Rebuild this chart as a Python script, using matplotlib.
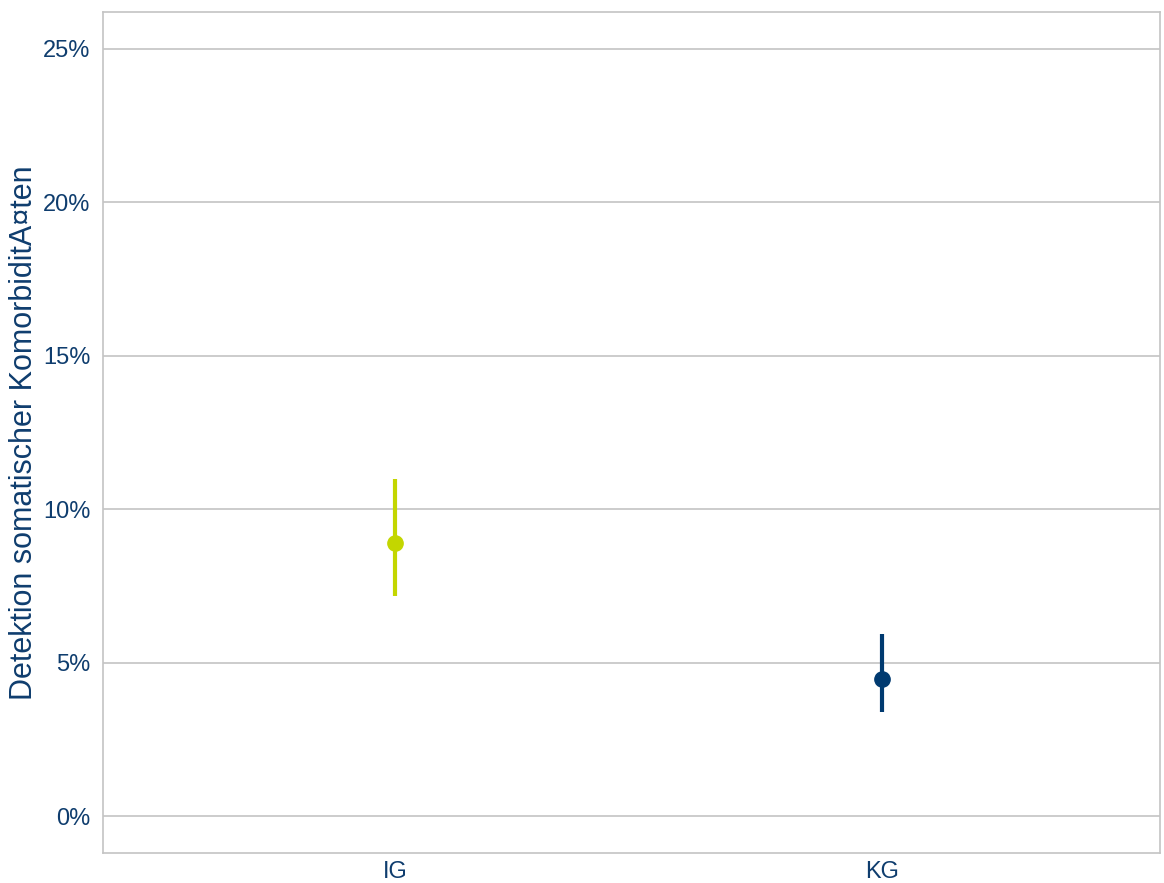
import matplotlib
matplotlib.use("Agg")
import matplotlib.pyplot as plt
from matplotlib.ticker import FuncFormatter

plt.rcParams['font.family'] = ['Liberation Sans', 'DejaVu Sans']

groups = ["IG", "KG"]
estimate = [8.90, 4.47]
lower = [7.17, 3.39]
upper = [10.98, 5.93]
colors = ["#C3D600", "#003A70"]
y_ticks = [0, 5, 10, 15, 20, 25]

text_color = "#0F3D6E"
grid_color = "#C4C4C4"

fig = plt.figure(figsize=(11.64, 8.83), dpi=100)
ax = fig.add_axes([103 / 1164, 1 - 853 / 883, (1160 - 103) / 1164, (853 - 12) / 883])

for i, (g, est, lo, hi, c) in enumerate(zip(groups, estimate, lower, upper, colors)):
    ax.vlines(i, lo, hi, color=c, linewidth=3, zorder=3)
    ax.plot(i, est, "o", color=c, markersize=11, zorder=4)

ax.set_xlim(-0.6, 1.57)
ax.set_ylim(-1.2, 26.2)
ax.set_xticks(range(len(groups)))
ax.set_xticklabels(groups)
ax.set_yticks(y_ticks)
ax.yaxis.set_major_formatter(FuncFormatter(lambda v, p: f"{v:.0f}%"))

ax.grid(axis="y", color=grid_color, linewidth=1.2)
ax.grid(axis="x", visible=False)
ax.set_axisbelow(True)
for s in ax.spines.values():
    s.set_color(grid_color)
    s.set_linewidth(1.2)

ax.tick_params(axis="y", length=0, labelsize=17, labelcolor=text_color, pad=9)
ax.tick_params(axis="x", length=0, labelsize=17, labelcolor=text_color, pad=6)
ax.set_ylabel("Detektion somatischer KomorbiditA¤ten", fontsize=22, color=text_color, labelpad=3)

fig.savefig("out.png", dpi=100, facecolor="white")
